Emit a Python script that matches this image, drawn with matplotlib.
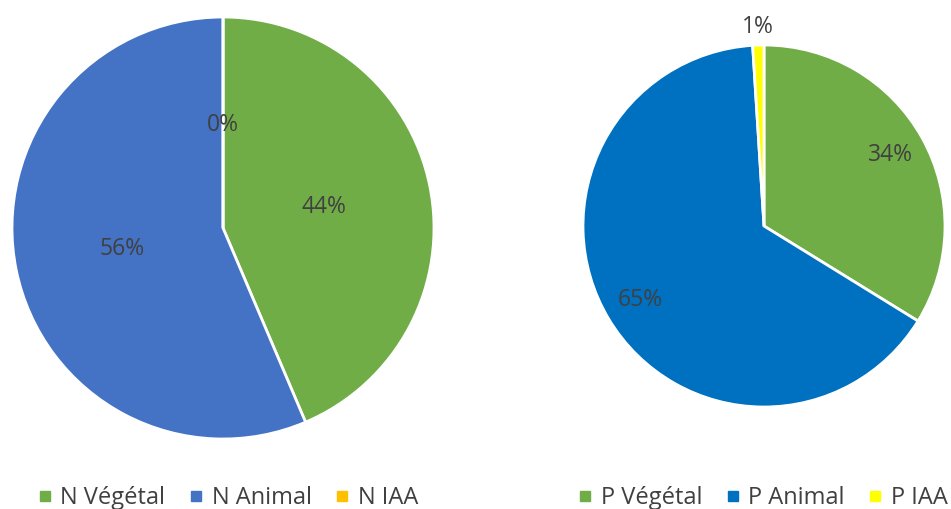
import matplotlib
matplotlib.use("Agg")
import matplotlib.pyplot as plt
from matplotlib.lines import Line2D
import numpy as np

plt.rcParams['font.family'] = ['Open Sans', 'DejaVu Sans']

n_labels = ["N Végétal", "N Animal", "N IAA"]
n_values = [43.6, 56.4, 0]
n_colors = ["#70AD47", "#4472C4", "#FFC000"]

p_labels = ["P Végétal", "P Animal", "P IAA"]
p_values = [33.8, 65.2, 1.0]
p_colors = ["#70AD47", "#0070C0", "#FFFF00"]

W, H = 951, 509
fig = plt.figure(figsize=(W / 100, H / 100), dpi=100)

def make_ax(cx, cy, r):
    return fig.add_axes([(cx - r) / W, (H - cy - r) / H, 2 * r / W, 2 * r / H])

txt_color = "#404040"

def draw_pie(ax, values, colors, pctdist, outside_small=False):
    wedges, texts, autotexts = ax.pie(values, colors=colors, startangle=90, counterclock=False,
                           autopct=lambda p: f"{p:.0f}%", pctdistance=pctdist,
                           wedgeprops=dict(edgecolor="white", linewidth=2),
                           textprops=dict(color=txt_color, fontsize=16.5))
    if outside_small:
        for w, t, v in zip(wedges, autotexts, values):
            if v / sum(values) < 0.03:
                ang = np.deg2rad((w.theta1 + w.theta2) / 2)
                t.set_position((1.1 * np.cos(ang), 1.1 * np.sin(ang)))
    ax.set_xlim(-1, 1)
    ax.set_ylim(-1, 1)
    ax.set_aspect("equal")
    ax.axis("off")
    return wedges

ax1 = make_ax(223, 228, 211)
w1 = draw_pie(ax1, n_values, n_colors, 0.49)

ax2 = make_ax(764, 226, 181)
w2 = draw_pie(ax2, p_values, p_colors, 0.8, outside_small=True)

def legend(labels, colors, x):
    handles = [Line2D([], [], marker="s", linestyle="none", markersize=7.2,
                      markerfacecolor=c, markeredgecolor=c) for c in colors]
    fig.legend(handles, labels, loc="center", bbox_to_anchor=(x / W, 1 - 498 / H),
               ncol=3, frameon=False, fontsize=17, handletextpad=0.35,
               columnspacing=1.0, handlelength=0.6, labelcolor=txt_color,
               borderpad=0, borderaxespad=0)

legend(n_labels, n_colors, 228)
legend(p_labels, p_colors, 763)

fig.savefig("out.png", dpi=100)
